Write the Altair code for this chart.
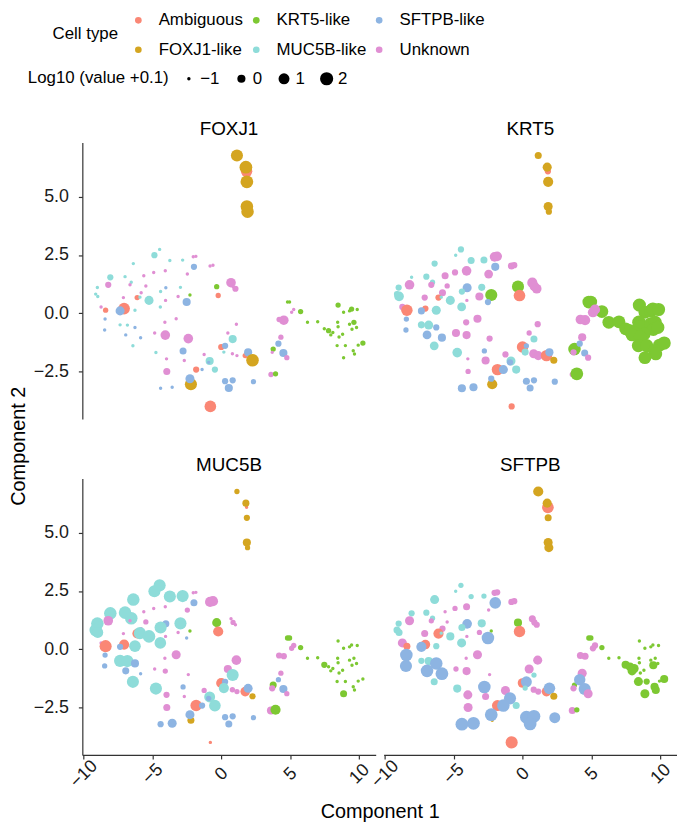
import altair as alt
import pandas as pd

genes = ["FOXJ1", "KRT5", "MUC5B", "SFTPB"]
type_order = ["Ambiguous", "KRT5-like", "SFTPB-like", "FOXJ1-like", "MUC5B-like", "Unknown"]
type_colors = ["#FA8775", "#7DC832", "#8DB4E2", "#D4A520", "#8EDCD9", "#E08FD3"]
type_names = {"A": "Ambiguous", "F": "FOXJ1-like", "K": "KRT5-like",
              "M": "MUC5B-like", "S": "SFTPB-like", "U": "Unknown"}

comp1 = [
    1.13, 1.83, 1.78, 1.85, 1.85, 1.90,
    -4.48, -4.86, -3.74, -2.81, -2.04, -1.85, -6.39, -1.99, -5.63, -4.91,
    -4.07, -2.47, -8.06, -6.99, -6.54, -6.63, -5.48, -8.21, -9.00, -2.97,
    -4.03, -5.82, -4.41, -9.12, -8.97, -2.28, -3.14, -7.11, -6.11, -5.91,
    -5.25, -4.05, -2.52, -8.73, -4.43, -7.06, -7.35, -8.40, -6.27, -8.44,
    -3.28, -4.10, -7.35, -6.82, -6.27, -8.47, -4.84, -4.07, -2.40, -6.94,
    -5.86, -6.42, -2.78, -4.75, -3.98, -2.69, -1.83, -3.96, -2.21, -2.28, -4.41, -3.57,
    -0.82, -0.61, 0.70, 1.02, 0.85, -0.34, -0.23, 4.80, 4.95, 5.75, 5.25, 5.10, 4.53, 4.19,
    1.09, 0.47, 0.82, 4.32, -0.01, 0.27, -1.25, -0.85, -0.92, 0.18, 0.80, 1.13, 1.73, 1.94, 2.26,
    3.76, 4.14, 3.69, 4.50, 4.75, -1.40, -0.47, 3.60, 3.93, 0.27, 0.82, 2.33, 0.54, -0.80,
    6.25, 6.99, 8.47, 8.87, 9.30, 9.45, 9.86, 8.44, 8.47, 9.30, 9.62, 9.48, 9.81,
    7.47, 7.78, 8.09, 7.94, 8.80, 8.54, 8.40, 9.00, 9.93, 10.27, 9.57, 9.66, 8.87,
]
comp2 = [
    6.77, 6.09, 6.27, 5.64, 4.58, 4.36,
    2.74, 2.49, 2.26, 2.28, 2.42, 2.44, 2.13, 1.99, 1.61, 1.75,
    1.82, 1.68, 1.54, 1.57, 1.33, 1.22, 1.17, 1.22, 1.10, 1.11,
    1.09, 0.88, 0.93, 0.82, 0.72, 0.78, 0.72, 0.67, 0.67, 0.69,
    0.55, 0.55, 0.48, 0.27, 0.27, 0.20, 0.10, 0.13, 0.13, -0.25,
    -0.24, -0.39, -0.50, -0.51, -0.61, -0.72, -0.85, -0.94, -1.09, -0.93,
    -1.05, -1.40, -1.62, -1.69, -1.96, -2.03, -2.42, -2.50, -3.05, -2.81, -3.22, -3.18,
    2.03, 2.06, 1.31, 1.05, 1.15, 1.14, 0.76, 0.48, 0.48, 0.07, 0.16, 0.04, -0.30, -0.27,
    -0.47, -0.85, -1.11, -1.03, -1.45, -1.40, -1.77, -2.05, -2.11, -1.67, -1.74, -1.82, -1.82, -1.68, -2.02,
    -1.54, -1.31, -1.68, -1.71, -1.91, -2.42, -2.42, -2.63, -2.60, -2.92, -2.88, -2.94, -3.21, -4.00,
    -0.39, -0.37, 0.35, 0.04, 0.10, 0.18, 0.16, -0.39, -0.58, -0.47, -0.39, -0.69, -0.61,
    -0.67, -0.75, -0.83, -0.93, -0.90, -1.02, -1.39, -1.39, -1.37, -1.28, -1.61, -1.75, -1.91,
]
cell_type = list(
    "FAFFFF"
    "MMMMUUMSUU"
    "UUMMMUUUMM"
    "SUMMMKUUAM"
    "MUSUMASAMS"
    "UUMMSSUUUS"
    "SMSMUUAUFSSS"
    "UUUUUKAKKKUUUU"
    "UUMUASUMSMUUASF"
    "KSUSUSMUKSSSSA"
    "KKKKKKKKKKKKK"
    "KKKKKKKKKKKKK"
)
foxj1 = [
    1.5, 1.2, 1.8, 1.8, 1.7, 1.7,
    -1, -0.5, -1, -1, -1, -1, -1, -0.5, -1, -1,
    -1, -1, -0.5, -1, -1, -1, -1, -0.5, -1, -1,
    -1, -1, -1, -1, -1, -1, -1, -1, -0.7, -1,
    0.3, -1, 0, -1, -1, 1.3, 0.3, -0.7, -1, -1,
    -1, -1, -1, -1, -1, -1, -1, 0.5, 0.5, -1,
    -1, -1, -0.3, -1, -1, -1, -0.5, -0.3, 1.5, 0.3, -1, -1,
    -1, -1, 0.5, -0.5, -1, -0.7, -0.7, -1, -1, -0.7, -1, -1, 0.5, -0.7,
    -1, -1, 0, -0.7, -0.5, -0.5, -1, 0, -1, -1, -1, -1, -0.7, 0, 1.7,
    -0.7, -0.5, -1, 0, -0.7, -1, -0.5, -0.7, -0.7, -0.5, -0.5, -0.7, 0, 1.3,
    -1, -1, -0.7, -1, -1, -0.7, -1, -1, -1, -1, -0.7, -1, -1,
    -1, -0.7, -1, -1, -1, -1, -1, -1, -1, -0.7, -1, -1, -1,
]
krt5 = [
    -0.3, -0.5, 0.3, 0.7, 0.3, -0.5,
    -0.5, -1, -0.3, -0.3, 0.5, 0.5, -0.5, 0, -0.3, -0.5,
    0.5, 0.2, -1, -0.5, -0.7, -0.5, -0.7, 0.5, -0.5, -0.3,
    0.3, -0.3, -0.5, -0.5, 0.5, 1.5, 0, -0.5, -0.5, -1,
    0.3, -1, -0.5, -0.5, 0.2, -0.5, -0.3, 1.2, 0.3, -0.7,
    0, -0.5, -0.3, 0.3, -0.5, -0.7, 0, 0, -0.5, 0.2,
    0, 0.2, -0.7, 0.5, -1, 0, 1.2, -0.7, 0.7, -0.5, 0, 0,
    -0.3, -0.5, 0.7, 0.5, 0.5, 1.5, 1.3, 1.8, 1.7, 1.8, 0.7, 0.7, 0.7, 0.5,
    -0.5, -0.7, -0.3, 0, 1.2, -0.7, -0.5, 0.3, -0.5, -0.3, 0.3, 0.3, 1.2, 0, -0.3,
    1.7, -0.5, -0.5, -0.3, -0.5, 0.3, 0, -0.7, 1.8, -0.3, -0.5, -0.5, -0.3, -0.5,
    1.8, 1.8, 2.0, 1.8, 2.0, 2.0, 2.0, 2.2, 2.2, 2.2, 2.0, 2.0, 2.0,
    1.8, 1.8, 1.8, 1.8, 2.0, 2.0, 2.0, 2.0, 1.8, 2.0, 2.0, 1.8, 1.8,
]
muc5b = [
    -0.7, -1, -0.3, -0.5, 0, -0.7,
    1.5, 1.5, 1.5, 1.5, -1, -1, 1.7, -0.3, -1, -1,
    -1, -0.7, 1.7, 1.7, 1.7, -1, -0.7, 0.5, 1.7, 1.5,
    -0.3, -1, 1.5, 1.7, 1.0, -1, -1, -1, 0.5, 1.5,
    1.7, -1, -1, -1, 1.3, 0.7, -0.5, 1.5, 1.3, -0.7,
    0.3, -1, 1.5, 1.5, 0, -0.7, -1, -0.7, -1, -0.3,
    -1, 1.5, -0.7, 1.5, -0.5, -1, 1.2, -0.3, -0.3, 0.3, -0.5, 0.3,
    0.7, 0.7, -1, -1, -0.7, 0.3, 0.7, -0.7, -0.7, -0.7, -0.7, -0.7, -0.5, -0.5,
    0.5, 0, 1.5, -0.7, 0.7, -0.5, -0.7, 1.0, -0.7, 0.7, -0.7, -0.7, 0.5, 0.3, -0.5,
    -0.3, -0.7, -0.5, 0, -0.7, -0.5, 1.3, 0, 0.7, -0.5, -0.5, -0.7, -0.3, -1,
    -1, -1, -1, -1, -1, -1, -1, -1, -1, -1, -1, -1, -1,
    -0.5, -1, -1, -1, -1, -1, -1, -1, -1, -1, -1, -1, -0.3,
]
sftpb = [
    0.7, 1.3, 0.3, -0.3, 0.3, 0.3,
    -0.7, -1, -0.7, -0.7, -0.5, -0.5, 0.3, 1.3, -1, -0.7,
    -0.3, -1, -0.5, -0.5, -0.7, -0.7, -1, 0.3, -0.5, 0,
    0.5, -0.5, -0.3, -0.3, -0.3, -1, -0.7, -0.3, 0.7, -1,
    0, -1, 1.7, 0.3, 0.3, 0.5, 0.7, -0.3, -0.5, 1.7,
    0.3, -1, -0.5, 0, 1.7, 1.5, -0.7, 0, -1, 1.7,
    1.8, -0.3, 1.7, 0, 0.3, -0.3, 1.0, 0.3, -1, 1.8, 1.8, 1.8,
    -0.5, -0.5, -0.3, -0.5, -0.5, 0, 1.2, -0.7, -0.7, -0.7, -0.5, -0.5, -0.3, -0.3,
    0.3, 0.3, -0.7, 0.3, 0.5, 1.0, 0.3, -0.5, 1.5, -0.7, -0.5, -0.5, 0.5, 1.3, -0.3,
    -0.7, 1.2, -0.5, 1.5, 0.3, 1.7, -0.3, -0.3, -0.7, 1.8, 1.8, 1.0, 1.8, 1.5,
    -1, -1, -1, -1, -1, -1, -1, -1, -1, -1, -1, 0, -1,
    0, 0, 0.3, 0.3, -1, -1, 0.3, -0.5, -1, 0, 0, 0, 0.3,
]

gene_values = {"FOXJ1": foxj1, "KRT5": krt5, "MUC5B": muc5b, "SFTPB": sftpb}
rows = []
for g in genes:
    vals = gene_values[g]
    for i in range(len(comp1)):
        rows.append({"gene": g, "comp1": comp1[i], "comp2": comp2[i],
                     "cell_type": type_names[cell_type[i]], "value": vals[i]})
df = pd.DataFrame(rows)

FONT = "Liberation Sans"
xscale = alt.Scale(domain=[-10.09, 11.2], nice=False, zero=False)
yscale = alt.Scale(domain=[-4.54, 7.33], nice=False, zero=False)

color_enc = alt.Color(
    "cell_type:N", scale=alt.Scale(domain=type_order, range=type_colors),
    legend=alt.Legend(title="Cell type", orient="none", legendX=-30, legendY=-132,
                      direction="horizontal", columns=3, titleOrient="left",
                      symbolType="circle", symbolSize=45, symbolStrokeWidth=0,
                      rowPadding=12, columnPadding=4, labelOffset=12, titlePadding=11))
size_enc = alt.Size(
    "value:Q", scale=alt.Scale(type="linear", domain=[-1, 2], range=[12, 177], zero=False),
    legend=alt.Legend(title="Log10 (value +0.1)", orient="none", legendX=-55, legendY=-73,
                      direction="horizontal", titleOrient="left", values=[-1, 0, 1, 2],
                      format="d", symbolType="circle", symbolFillColor="black",
                      symbolStrokeWidth=0, symbolOpacity=1, columnPadding=13,
                      labelOffset=3, titlePadding=11))


def panel(gene, show_x, show_y, x_title=None, y_title=None):
    if show_x:
        xaxis = alt.Axis(values=[-10, -5, 0, 5, 10], format="d", labelAngle=315,
                         labelAlign="center", labelBaseline="middle", labelPadding=15,
                         title=x_title, titleX=300, titleY=47, titleBaseline="top")
    else:
        xaxis = None
    if show_y:
        yaxis = alt.Axis(values=[-2.5, 0, 2.5, 5], format=".1f", labelPadding=10,
                         title=y_title, titleY=306, titleX=-54)
    else:
        yaxis = None
    return alt.Chart(df).transform_filter(alt.datum.gene == gene).mark_circle(opacity=1).encode(
        x=alt.X("comp1:Q", scale=xscale, axis=xaxis, title=x_title),
        y=alt.Y("comp2:Q", scale=yscale, axis=yaxis, title=y_title),
        color=color_enc,
        size=size_enc,
    ).properties(
        width=296, height=279,
        title=alt.TitleParams(text=gene, fontSize=19, font=FONT, fontWeight="normal",
                              anchor="middle", offset=4, color="black"),
    )


chart = alt.concat(
    panel("FOXJ1", False, True, y_title="Component 2"),
    panel("KRT5", False, False),
    panel("MUC5B", True, True, x_title="Component 1"),
    panel("SFTPB", True, False),
    columns=2, spacing={"row": 60, "column": 8}, bounds="flush",
).properties(
    padding={"left": 1, "top": 0, "right": 0, "bottom": 0}
).configure_view(stroke=None).configure_axis(
    grid=False, domainColor="#333333", tickColor="#333333", domainWidth=1.2, tickWidth=1.2,
    tickSize=4, labelFont=FONT, titleFont=FONT, labelFontSize=18, titleFontSize=20,
    labelColor="#1a1a1a", titleColor="black", titleFontWeight="normal",
).configure_legend(
    labelFont=FONT, titleFont=FONT, labelFontSize=17, titleFontSize=17,
    titleFontWeight="normal", labelColor="black", titleColor="black",
)

chart.save("out.html", embed_options={"renderer": "svg", "actions": False})
